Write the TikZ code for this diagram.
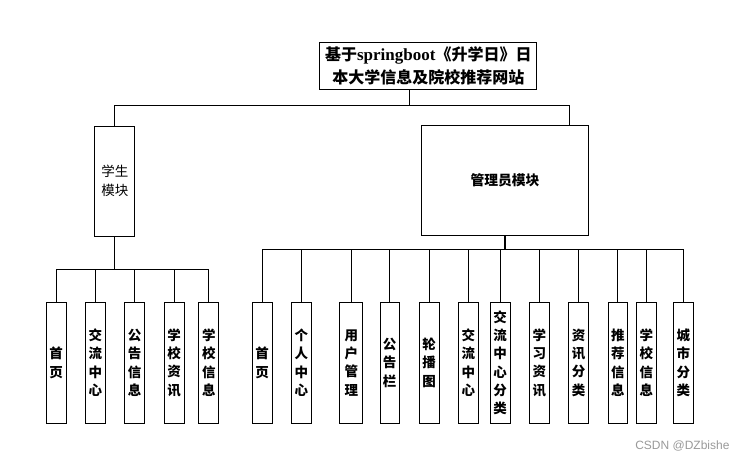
\documentclass[tikz,border=0pt]{standalone}
\usepackage{fontspec}
\setmainfont{Noto Sans CJK SC}
\newfontfamily\latinfont{Liberation Serif}
\newfontfamily\markfont{Liberation Sans}
\tikzset{every node/.style={font=\fontsize{13.5}{19.3}\selectfont},
box/.style={draw, line width=1pt, inner sep=0pt, align=center},
leaf/.style={box, minimum height=121.3pt,
  font=\bfseries\fontsize{13.5}{18.3}\selectfont},
link/.style={line width=0.9pt}}

\begin{document}
\begin{tikzpicture}[x=1pt,y=-1pt]
\useasboundingbox (0,0) rectangle (749,460);
\node[box, minimum width=216.7pt, minimum height=46.6pt,
  font=\bfseries\fontsize{16}{23}\selectfont] (title) at (428.3,66)
  {基于{\latinfont\fontsize{17}{23}\selectfont springboot}《升学日》日\\本大学信息及院校推荐网站};
\node[box, minimum width=39.7pt, minimum height=110pt] (stu) at (114.8,181) {学生\\模块};
\node[box, minimum width=166.7pt, minimum height=109.6pt,
  font=\bfseries\fontsize{13.8}{18}\selectfont] (adm) at (505,180.5) {管理员模块};
\foreach \n/\x/\w/\t in {s1/56/20/首\\页, s2/95.3/20/交\\流\\中\\心,
    s3/134.7/20/公\\告\\信\\息, s4/174/20/学\\校\\资\\讯, s5/208.9/20/学\\校\\信\\息}
  \node[leaf, minimum width=\w pt] (\n) at (\x,362.7) {\t};
\foreach \n/\x/\w/\t in {a1/262.2/20/首\\页, a2/301.4/19.3/个\\人\\中\\心,
    a3/351.3/22.7/用\\户\\管\\理, a4/389.7/19.3/公\\告\\栏, a5/429.2/19.7/轮\\播\\图,
    a6/468.3/20/交\\流\\中\\心, a7/500.2/19.7/交\\流\\中\\心\\分\\类,
    a8/539.3/20/学\\习\\资\\讯, a9/578.7/20/资\\讯\\分\\类, a10/617.9/19.7/推\\荐\\信\\息,
    a11/646.3/20/学\\校\\信\\息, a12/683.3/20/城\\市\\分\\类}
  \node[leaf, minimum width=\w pt] (\n) at (\x,362.7) {\t};
\coordinate (tj) at (409.3,105);
\coordinate (sj) at (114.8,269.3);
\coordinate (aj) at (505,249.3);
\draw[link] (title.south -| tj) -- (tj);
\draw[link] (tj) -| (stu.north);
\draw[link] (tj) -| ([xshift=-19.7pt]adm.north east);
\draw[link] (stu) -- (sj);
\draw[link, line width=1.6pt] (adm) -- (aj);
\foreach \i in {1,...,5} \draw[link] (sj) -| (s\i.north);
\foreach \i in {1,...,12} \draw[link] (aj) -| (a\i.north);
\node[font=\markfont\fontsize{12}{14}\selectfont, text=black!40, anchor=east]
  (mark) at (733,446) {CSDN @DZbishe};
\end{tikzpicture}
\end{document}
